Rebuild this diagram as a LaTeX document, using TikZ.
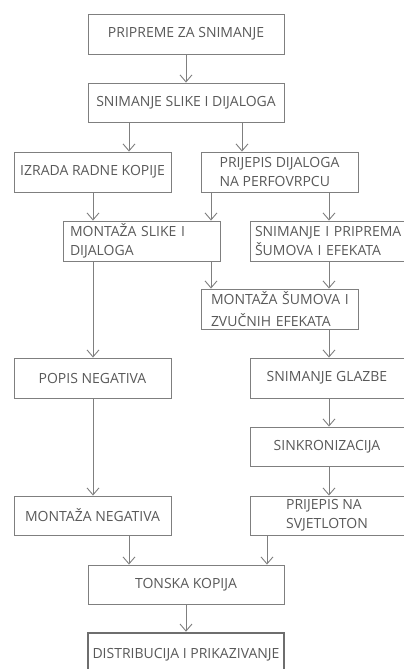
\documentclass[tikz,border=0pt]{standalone}
\usepackage{fontspec}
\setmainfont{Open Sans}
\usetikzlibrary{arrows.meta}
\definecolor{linegray}{RGB}{127,127,127}
\definecolor{textgray}{RGB}{89,89,89}
\definecolor{thickgray}{RGB}{110,110,110}
\tikzset{
  box/.style={draw=linegray, line width=0.9pt, rectangle, inner xsep=0pt, inner ysep=0pt,
    minimum height=40pt, text=textgray,
    font=\fontsize{14pt}{19pt}\selectfont},
  arr/.style={draw=linegray, line width=0.9pt, -{Straight Barb[length=7pt,width=12pt,line width=0.9pt]}},
}
\begin{document}
\begin{tikzpicture}[x=1pt,y=-1pt]
\useasboundingbox (0,0) rectangle (404,669);
\clip (0,0) rectangle (404,669);
\node[box, minimum width=196pt] (A) at (186,34) {PRIPREME ZA SNIMANJE};
\node[box, minimum width=196pt, minimum height=39pt] (B) at (186,102.5) {SNIMANJE SLIKE I DIJALOGA};
\node[box, minimum width=157pt] (C) at (92.5,172) {IZRADA RADNE KOPIJE};
\node[box, minimum width=157pt, align=left] (D) at (279.5,172) {PRIJEPIS DIJALOGA\\NA PERFOVRPCU};
\node[box, minimum width=157pt, text width=143pt, align=left] (E) at (141.5,241) {\mbox{MONTAŽA SLIKE I}\\\mbox{DIJALOGA}};
\node[box, minimum width=154pt, text width=144pt, align=left] (F) at (327,241) {\mbox{SNIMANJE I PRIPREMA}\\\mbox{ŠUMOVA I EFEKATA}};
\node[box, minimum width=157pt, text width=137pt, align=left,
      font=\fontsize{14pt}{22pt}\selectfont] (G) at (279.5,309) {\mbox{MONTAŽA ŠUMOVA I}\\\mbox{ZVUČNIH EFEKATA}};
\node[box, minimum width=157pt] (H) at (92.5,378) {POPIS NEGATIVA};
\node[box, minimum width=154pt] (I) at (327,378) {SNIMANJE GLAZBE};
\node[box, minimum width=154pt, minimum height=39pt] (J) at (327,446.5) {SINKRONIZACIJA};
\node[box, minimum width=157pt, minimum height=39pt] (K) at (92.5,515.5) {MONTAŽA NEGATIVA};
\node[box, minimum width=154pt, minimum height=39pt, align=left] (L) at (327,515.5) {PRIJEPIS NA\\SVJETLOTON};
\node[box, minimum width=196pt, minimum height=39pt] (M) at (186,584.5) {TONSKA KOPIJA};
\node[box, minimum width=196pt, minimum height=44pt, line width=2.6pt, draw=thickgray] (N) at (186,655) {DISTRIBUCIJA I PRIKAZIVANJE};
\draw[arr] (A.south) -- (B.north);
\draw[arr] (129,0 |- B.south) -- (129,0 |- C.north);
\draw[arr] (242,0 |- B.south) -- (242,0 |- D.north);
\draw[arr] (93,0 |- C.south) -- (93,0 |- E.north);
\draw[arr] (211,0 |- D.south) -- (211,0 |- E.north);
\draw[arr] (329,0 |- D.south) -- (329,0 |- F.north);
\draw[arr] (211,0 |- E.south) -- (211,0 |- G.north);
\draw[arr] (329,0 |- F.south) -- (329,0 |- G.north);
\draw[arr] (93,0 |- E.south) -- (93,0 |- H.north);
\draw[arr] (329,0 |- G.south) -- (329,0 |- I.north);
\draw[arr] (329,0 |- I.south) -- (329,0 |- J.north);
\draw[arr] (329,0 |- J.south) -- (329,0 |- L.north);
\draw[arr] (93,0 |- H.south) -- (93,0 |- K.north);
\draw[arr] (129,0 |- K.south) -- (129,0 |- M.north);
\draw[arr] (267,0 |- L.south) -- (267,0 |- M.north);
\draw[arr] (M.south) -- (N.north);
\end{tikzpicture}
\end{document}
